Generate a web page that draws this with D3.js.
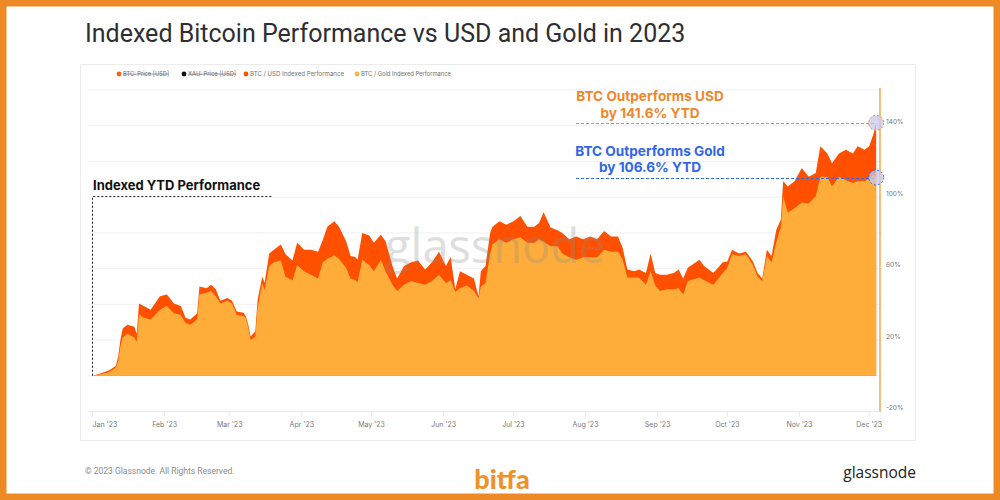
<!DOCTYPE html>
<html>
<head>
<meta charset="utf-8">
<script src="https://cdn.jsdelivr.net/npm/d3@7"></script>
<style>
  html, body { margin: 0; padding: 0; background: #fff; }
  svg { display: block; }
</style>
</head>
<body>
<svg id="chart" width="1000" height="500"></svg>
<script>
// ---------------- DATA ----------------
const dates = [
"2023-01-01","2023-01-05","2023-01-08","2023-01-11","2023-01-12","2023-01-13","2023-01-14","2023-01-16","2023-01-19","2023-01-20",
"2023-01-21","2023-01-23","2023-01-26","2023-01-30","2023-02-02","2023-02-05","2023-02-08","2023-02-10","2023-02-12","2023-02-15",
"2023-02-16","2023-02-19","2023-02-21","2023-02-23","2023-02-25","2023-02-28","2023-03-02","2023-03-04","2023-03-07","2023-03-08",
"2023-03-09","2023-03-10","2023-03-12","2023-03-13","2023-03-15","2023-03-16","2023-03-18","2023-03-20","2023-03-23","2023-03-25",
"2023-03-28","2023-03-30","2023-04-02","2023-04-05","2023-04-08","2023-04-10","2023-04-12","2023-04-15","2023-04-17","2023-04-20",
"2023-04-22","2023-04-24","2023-04-25","2023-04-27","2023-04-30","2023-05-02","2023-05-05","2023-05-07","2023-05-10","2023-05-12",
"2023-05-15","2023-05-18","2023-05-21","2023-05-24","2023-05-27","2023-05-30","2023-06-02","2023-06-04","2023-06-06","2023-06-08",
"2023-06-11","2023-06-14","2023-06-16","2023-06-17","2023-06-19","2023-06-21","2023-06-22","2023-06-25","2023-06-28","2023-07-01",
"2023-07-04","2023-07-07","2023-07-10","2023-07-12","2023-07-14","2023-07-17","2023-07-20","2023-07-22","2023-07-25","2023-07-28",
"2023-07-31","2023-08-03","2023-08-06","2023-08-09","2023-08-12","2023-08-15","2023-08-17","2023-08-19","2023-08-22","2023-08-24",
"2023-08-27","2023-08-29","2023-08-31","2023-09-02","2023-09-05","2023-09-08","2023-09-10","2023-09-12","2023-09-14","2023-09-19",
"2023-09-21","2023-09-25","2023-09-29","2023-10-01","2023-10-03","2023-10-06","2023-10-09","2023-10-12","2023-10-14","2023-10-16",
"2023-10-18","2023-10-20","2023-10-22","2023-10-24","2023-10-25","2023-10-27","2023-10-30","2023-11-02","2023-11-05","2023-11-08",
"2023-11-10","2023-11-13","2023-11-15","2023-11-18","2023-11-21","2023-11-24","2023-11-26","2023-11-29","2023-12-01","2023-12-03",
"2023-12-04"
];
// BTC / USD indexed performance (%)
const btcUsdPerf = [
0,1.5,3,5.5,10.5,20,26.5,28.5,27.5,23.5,
40.5,39,37,44.5,45.5,40.5,39,32.5,31.5,35,
50,49,51,48.5,42,43.5,42,36,35.3,33,
28.5,22,25,42.5,55.5,52,68.5,70.5,73.5,68,
64.5,74.5,70.5,70.5,69.5,76,83.5,86.5,83.5,75.5,
67,66.5,65,80,78.5,74.5,79,75.5,61.5,54.5,
61.5,63.5,64.5,59.5,63.5,69.5,61.5,66.5,48.5,58.5,
56.5,54.5,44.5,58.5,61.5,80,83.5,86.5,84.5,86.5,
89.5,83.5,83.5,85.5,91.5,83,81.5,80,76.5,78,
76.5,78,76.5,81,78,78,71.5,59.5,58.5,59.5,
57.5,68.5,57.5,56.5,56.5,57.5,59.5,54.5,60.5,65,
61.5,57.5,63.5,64,70.5,68.5,69.5,64,57.5,54.5,
70.5,67,81.5,87.5,109,106,109,116.3,111.5,113.5,
128.5,124.5,119,124.5,126.5,124.5,128.5,126.5,128.5,136,
141.6
];
// BTC / Gold indexed performance (%)
const btcGoldPerf = [
0,1,2,4.5,8,16.5,21.5,23.5,21.5,19,
34.5,32.5,31.5,37,39,35,34,29.5,28.5,31.5,
45.5,46.5,47.5,44.5,40.5,42,40.5,34,33.5,32,
27,20,22,38,52,48,61.5,63.5,64.5,55.5,
53.5,62,58.5,56.5,54.5,63.5,65.5,67.5,65.5,60.5,
54.5,53.5,52.5,65,62,58.5,65,58.5,51,47.5,
51,53,52,51,53,56.5,52,53.5,47,49,
50.5,47.5,43.5,50,52,68.5,73.5,76.5,74.5,76.5,
77.5,74.5,74.5,76.5,75,72.5,72.5,68.5,66.3,65,
66.3,66.3,66.3,70.5,69.5,69.5,65,55,55,55,
51,58.5,50.5,47.5,48.5,48.5,49,45.5,53,55,
53.5,51,57.5,60.5,68,67,68,62,55.5,53,
67,63.5,74.5,83.5,100.5,91.3,94,97,96.5,100.5,
111.5,111.5,106,111.5,109.5,108,109,109,110.5,112.5,
111
];
const monthTicks = ["2023-01-01","2023-02-01","2023-03-01","2023-04-01","2023-05-01","2023-06-01",
                    "2023-07-01","2023-08-01","2023-09-01","2023-10-01","2023-11-01","2023-12-01"];
const yTicks = [-20, 20, 60, 100, 140];
const yGrid = [-20, 0, 20, 40, 60, 80, 100, 120, 140, 160];
const legendItems = [
  {label: "BTC: Price [USD]", color: "#ff5c1a", hidden: true},
  {label: "XAU: Price [USD]", color: "#111111", hidden: true},
  {label: "BTC / USD Indexed Performance", color: "#ff5000", hidden: false},
  {label: "BTC / Gold Indexed Performance", color: "#ffb040", hidden: false}
];
const titleText = "Indexed Bitcoin Performance vs USD and Gold in 2023";
const usdNote = ["BTC Outperforms USD", "by 141.6% YTD"];
const goldNote = ["BTC Outperforms Gold", "by 106.6% YTD"];

// ---------------- CHART ----------------
const parse = d3.utcParse("%Y-%m-%d");
const usdData = dates.map((d, i) => ({date: parse(d), v: btcUsdPerf[i]}));
const goldData = dates.map((d, i) => ({date: parse(d), v: btcGoldPerf[i]}));

const svg = d3.select("#chart");
const FONT = "Inter, 'Noto Sans', sans-serif";

const x = d3.scaleUtc().domain([parse("2023-01-01"), parse("2023-12-05")]).range([92.5, 878.5]);
const y = d3.scaleLinear().domain([-20, 160]).range([411.5, 90]);

// background
svg.append("rect").attr("width", 1000).attr("height", 500).attr("fill", "#fff");

// title
svg.append("text").attr("x", 85).attr("y", 42)
  .attr("font-family", "Roboto, sans-serif").attr("font-size", 25).attr("fill", "#2e2e33")
  .text(titleText);

// panel
svg.append("rect").attr("x", 80.5).attr("y", 64.5).attr("width", 835).attr("height", 376)
  .attr("fill", "#fff").attr("stroke", "#ececec");

// legend
const legendX = [119, 184, 246, 357];
const legendW = [46, 48, 94, 90];
const lg = svg.append("g");
legendItems.forEach((it, i) => {
  lg.append("circle").attr("cx", legendX[i]).attr("cy", 74).attr("r", 2.4).attr("fill", it.color);
  lg.append("text").attr("x", legendX[i] + 4).attr("y", 76.4)
    .attr("font-family", FONT).attr("font-size", 6.8).attr("fill", "#707070")
    .attr("textLength", legendW[i]).attr("lengthAdjust", "spacingAndGlyphs")
    .attr("text-decoration", it.hidden ? "line-through" : null)
    .text(it.label);
});

// gridlines
svg.append("g").selectAll("line").data(yGrid).join("line")
  .attr("x1", 88).attr("x2", 882)
  .attr("y1", d => y(d)).attr("y2", d => y(d))
  .attr("stroke", "#f0f0f0").attr("stroke-width", 1);

// areas
const area = d3.area().x(d => x(d.date)).y0(y(0)).y1(d => y(d.v));
svg.append("path").datum(usdData).attr("d", area).attr("fill", "#ff5000");
svg.append("path").datum(goldData).attr("d", area).attr("fill", "#ffad3a");

// watermark
svg.append("text").attr("x", 385).attr("y", 263)
  .attr("font-family", "'Open Sans', sans-serif").attr("font-size", 47).attr("font-weight", 400)
  .attr("fill", "#8a8a8a").attr("opacity", 0.28).text("glassnode");

// x axis
const xAxisG = svg.append("g");
xAxisG.append("line").attr("x1", 88).attr("x2", 882).attr("y1", y(-20)).attr("y2", y(-20))
  .attr("stroke", "#e8e8e8");
monthTicks.forEach((m, i) => {
  const d = parse(m);
  const px = x(d);
  xAxisG.append("line").attr("x1", px).attr("x2", px).attr("y1", y(-20)).attr("y2", y(-20) + 5)
    .attr("stroke", "#e8e8e8");
  xAxisG.append("text").attr("x", px).attr("y", 426.5)
    .attr("text-anchor", i === 0 ? "start" : "middle")
    .attr("font-family", FONT).attr("font-size", 7).attr("fill", "#777")
    .text(d3.utcFormat("%b '%y")(d));
});

// y axis (right)
svg.append("g").selectAll("text").data(yTicks).join("text")
  .attr("x", 886).attr("y", d => y(d) - 1.5)
  .attr("font-family", FONT).attr("font-size", 6.6).attr("fill", "#777")
  .text(d => d + "%");

// vertical orange marker line
const lastDate = usdData[usdData.length - 1].date;
const lastUsd = usdData[usdData.length - 1].v;
const lastGold = goldData[goldData.length - 1].v;
svg.append("line").attr("x1", 880).attr("x2", 880).attr("y1", y(160) - 2).attr("y2", y(-20))
  .attr("stroke", "#f5a94c").attr("stroke-width", 1.5);

// Indexed YTD box
const boxTop = 196.5;
svg.append("path")
  .attr("d", `M${x(parse("2023-01-01"))},${y(0)} V${boxTop} H272`)
  .attr("fill", "none").attr("stroke", "#222").attr("stroke-width", 1).attr("stroke-dasharray", "2,2");
svg.append("text").attr("x", 93).attr("y", 189.5)
  .attr("font-family", FONT).attr("font-size", 13).attr("font-weight", 700).attr("fill", "#111")
  .text("Indexed YTD Performance");

// annotations
function note(lines, color, yl, cy1, cy2) {
  const ys = Math.round(yl) + 0.5;
  [lines[0], lines[1]].forEach((t, k) => {
    svg.append("text").attr("x", 650).attr("y", (k ? cy2 : cy1) + 4.7).attr("text-anchor", "middle")
      .attr("font-family", FONT).attr("font-size", 13.6).attr("font-weight", 700).attr("fill", color)
      .text(t);
  });
  svg.append("line").attr("x1", 576).attr("x2", x(lastDate)).attr("y1", ys).attr("y2", ys)
    .attr("stroke", color).attr("stroke-width", 1).attr("stroke-dasharray", "3,2");
  svg.append("circle").attr("cx", x(lastDate)).attr("cy", yl).attr("r", 7.5)
    .attr("fill", "#c8c8e8").attr("fill-opacity", 0.75)
    .attr("stroke", color).attr("stroke-width", 1).attr("stroke-dasharray", "2,2");
}
note(usdNote, "#f0862a", y(lastUsd), 96.7, 113.5);
note(goldNote, "#3066e8", y(lastGold), 151, 167.5);

// footer
svg.append("text").attr("x", 85).attr("y", 474)
  .attr("font-family", "Roboto, sans-serif").attr("font-size", 8.5).attr("fill", "#8a8a8a")
  .text("© 2023 Glassnode. All Rights Reserved.");
svg.append("text").attr("x", 502).attr("y", 489).attr("text-anchor", "middle")
  .attr("font-family", "Lato, sans-serif").attr("font-size", 27).attr("font-weight", 900).attr("fill", "#f0912a")
  .text("bitfa");
svg.append("text").attr("x", 916).attr("y", 478).attr("text-anchor", "end")
  .attr("font-family", "'Open Sans', sans-serif").attr("font-size", 15.5).attr("fill", "#222")
  .text("glassnode");

// outer orange frame
svg.append("rect").attr("x", 0).attr("y", 0).attr("width", 1000).attr("height", 500)
  .attr("fill", "none").attr("stroke", "#ee8a25").attr("stroke-width", 13);
</script>
</body>
</html>
